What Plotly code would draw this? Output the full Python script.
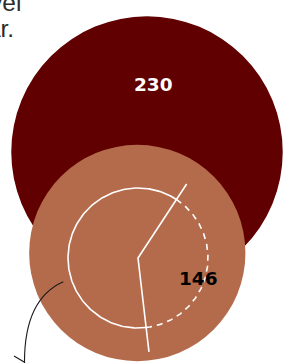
import math
import plotly.graph_objects as go

# ---- data ----
categories = ["Total", "Subset"]
values = [230, 146]
share = 0.389          # fraction highlighted by the dashed wedge
label_colors = ["#ffffff", "#000000"]
fill_colors = ["#600000", "#b46b4c"]
intro_lines = ["level", "year."]

# ---- layout constants ----
W, H = 284, 363
k = 8.95                                   # radius = k * sqrt(value)
centers = [(147, 152), (137.3, 253)]
label_pos = [(153.5, 84), (198.5, 278)]
ring_c = (138, 258)
ring_r = 70
start_deg = 33.3
len_a, len_b = 88.6, 94.6

fig = go.Figure()
shapes = []
for (cx, cy), v, col in zip(centers, values, fill_colors):
    r = k * math.sqrt(v)
    shapes.append(dict(type="circle", xref="x", yref="y",
                       x0=cx - r, x1=cx + r, y0=cy - r, y1=cy + r,
                       fillcolor=col, line=dict(width=0), layer="below"))

def pt(c, r, deg):
    t = math.radians(deg)
    return c[0] + r * math.sin(t), c[1] - r * math.cos(t)

end_deg = start_deg + share * 360
n = 200
sol = [pt(ring_c, ring_r, end_deg + (360 - share * 360) * i / n) for i in range(n + 1)]
fig.add_trace(go.Scatter(x=[p[0] for p in sol], y=[p[1] for p in sol], mode="lines",
                         line=dict(color="white", width=1.6), hoverinfo="skip"))
dsh = [pt(ring_c, ring_r, start_deg + share * 360 * i / n) for i in range(n + 1)]
fig.add_trace(go.Scatter(x=[p[0] for p in dsh], y=[p[1] for p in dsh], mode="lines",
                         line=dict(color="white", width=1.6, dash="6px,5px"), hoverinfo="skip"))
a = pt(ring_c, len_a, start_deg)
b = pt(ring_c, len_b, end_deg)
fig.add_trace(go.Scatter(x=[a[0], ring_c[0], b[0]], y=[a[1], ring_c[1], b[1]], mode="lines",
                         line=dict(color="white", width=1.6), hoverinfo="skip"))

shapes.append(dict(type="path", xref="x", yref="y",
                   path="M 63.3 281.7 C 40 292 24 315 24.5 364",
                   line=dict(color="#1a1a1a", width=1.1)))
shapes.append(dict(type="path", xref="x", yref="y",
                   path="M 14 356 L 25 362.5",
                   line=dict(color="#1a1a1a", width=1.1)))

annotations = []
for (x, y), v, col in zip(label_pos, values, label_colors):
    annotations.append(dict(x=x, y=y, xref="x", yref="y", text=f"<b>{v}</b>",
                            showarrow=False, xanchor="center", yanchor="middle",
                            font=dict(family="DejaVu Sans", size=18.5, color=col)))
annotations.append(dict(x=23, y=2.5, xref="x", yref="y", text=intro_lines[0], showarrow=False,
                        xanchor="right", yanchor="middle",
                        font=dict(family="Liberation Sans, Arial", size=24.5, color="#2b2b2b")))
annotations.append(dict(x=16, y=28.5, xref="x", yref="y", text=intro_lines[1], showarrow=False,
                        xanchor="right", yanchor="middle",
                        font=dict(family="Liberation Sans, Arial", size=24.5, color="#2b2b2b")))

fig.update_layout(
    width=W, height=H, margin=dict(l=0, r=0, t=0, b=0),
    paper_bgcolor="white", plot_bgcolor="white", showlegend=False,
    shapes=shapes, annotations=annotations,
    xaxis=dict(range=[0, W], visible=False, fixedrange=True),
    yaxis=dict(range=[H, 0], visible=False, fixedrange=True),
)
fig.write_html("out.html", config={"displayModeBar": False},
               post_script="document.body.style.margin='0';document.body.style.overflow='hidden';")
